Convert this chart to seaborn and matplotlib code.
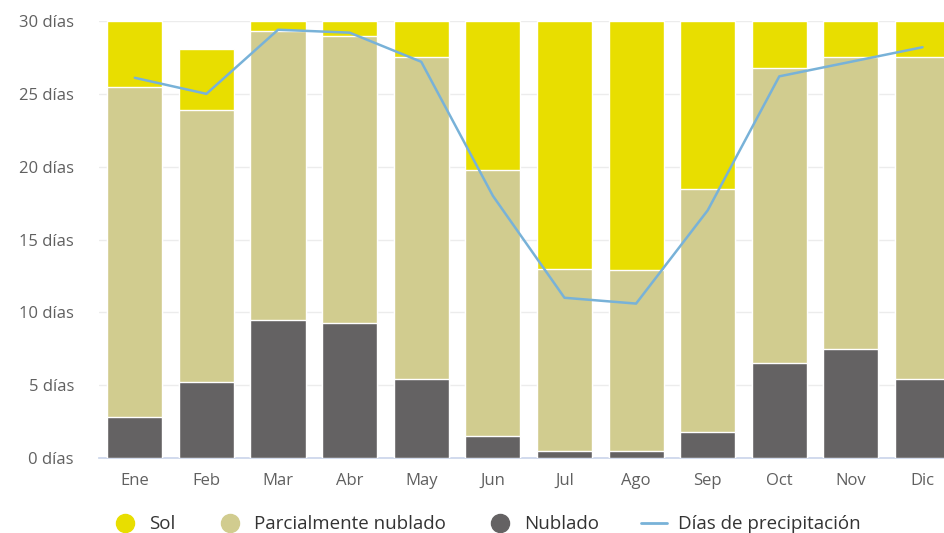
import numpy as np
import pandas as pd
import matplotlib
matplotlib.use("Agg")
import matplotlib.pyplot as plt
from matplotlib.lines import Line2D
import seaborn as sns

meses = ["Ene", "Feb", "Mar", "Abr", "May", "Jun", "Jul", "Ago", "Sep", "Oct", "Nov", "Dic"]
nublado = [2.8, 5.2, 9.5, 9.3, 5.4, 1.5, 0.5, 0.5, 1.8, 6.5, 7.5, 5.4]
parcial = [22.7, 18.7, 19.8, 19.7, 22.1, 18.3, 12.5, 12.4, 16.7, 20.3, 20.0, 22.1]
sol = [4.5, 4.2, 0.7, 1.0, 2.5, 10.2, 17.0, 17.1, 11.5, 3.2, 2.5, 2.5]
precip = [26.1, 25.0, 29.4, 29.2, 27.2, 18.0, 11.0, 10.6, 17.0, 26.2, 27.2, 28.2]
yticks = [0, 5, 10, 15, 20, 25, 30]

c_sol = "#E8DE00"
c_par = "#D1CC8F"
c_nub = "#646263"
c_line = "#78B2D8"
c_txt = "#606060"

sns.set_theme(style="white")
plt.rcParams["font.family"] = ["Open Sans", "DejaVu Sans"]

df = pd.DataFrame({"mes": meses, "nublado": nublado, "parcial": parcial, "sol": sol})
df["c2"] = df["nublado"] + df["parcial"]
df["c3"] = df["c2"] + df["sol"]

fig = plt.figure(figsize=(9.44, 5.33), dpi=100)
ax = fig.add_axes([99 / 944, (533 - 458) / 533, (944 - 99) / 944, (458 - 21) / 533])

w = 0.77
sns.barplot(data=df, x="mes", y="c3", color=c_sol, saturation=1, width=w,
            edgecolor="white", linewidth=1, ax=ax, zorder=2)
sns.barplot(data=df, x="mes", y="c2", color=c_par, saturation=1, width=w,
            edgecolor="white", linewidth=1, ax=ax, zorder=3)
sns.barplot(data=df, x="mes", y="nublado", color=c_nub, saturation=1, width=w,
            edgecolor="white", linewidth=1, ax=ax, zorder=4)
sns.lineplot(x=np.arange(len(meses)), y=precip, color=c_line, linewidth=1.8, ax=ax, zorder=5)

ax.set_xlim(-0.5, 11.3)
ax.set_ylim(0, 30)
ax.set_yticks(yticks)
ax.set_yticklabels([f"{v} días" for v in yticks])
ax.set_xlabel("")
ax.set_ylabel("")
ax.yaxis.grid(True, color="#ECECEC", linewidth=1, zorder=0)
ax.set_axisbelow(True)
for s in ["top", "right", "left"]:
    ax.spines[s].set_visible(False)
ax.spines["bottom"].set_color("#CCD6EB")
ax.tick_params(axis="y", length=0, pad=18, labelsize=12, labelcolor=c_txt)
ax.tick_params(axis="x", length=0, pad=11, labelsize=12, labelcolor=c_txt)

handles = [
    Line2D([], [], marker="o", linestyle="", markersize=13, color=c_sol),
    Line2D([], [], marker="o", linestyle="", markersize=13, color=c_par),
    Line2D([], [], marker="o", linestyle="", markersize=13, color=c_nub),
    Line2D([], [], color=c_line, linewidth=2),
]
labels = ["Sol", "Parcialmente nublado", "Nublado", "Días de precipitación"]
fig.legend(handles, labels, loc="center", bbox_to_anchor=(0.515, 0.016), ncol=4,
           frameon=False, fontsize=13.5, labelcolor="#333333", handlelength=1.4,
           handletextpad=0.6, columnspacing=2.2)

fig.savefig("out.png", dpi=100)
